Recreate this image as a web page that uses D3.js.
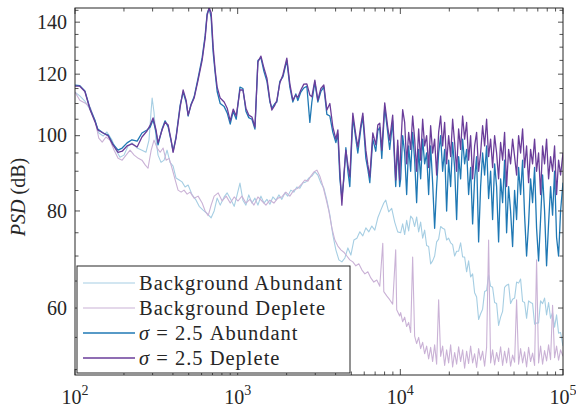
<!DOCTYPE html>
<html>
<head>
<meta charset="utf-8">
<script src="https://cdn.jsdelivr.net/npm/d3@7"></script>
<style>
  body { margin: 0; background: #fff; }
  text { font-family: "Liberation Serif", "Times New Roman", serif; fill: #262626; }
</style>
</head>
<body>
<div id="chart"></div>
<script>
// x tick labels (powers of ten) and y tick values
var xTickExps = [2, 3, 4, 5];
var yTickValues = [60, 80, 100, 120, 140];
var yMinorValues = [50, 55, 65, 70, 75, 85, 90, 95, 105, 110, 115, 125, 130, 135, 145];
var seriesNames = ["Background Abundant", "Background Deplete", "\u03c3 = 2.5 Abundant", "\u03c3 = 2.5 Deplete"];
var seriesColors = ["#a6cee3", "#cab2d6", "#1f78b4", "#6a3d9a"];

// shared frequency bins (Hz) for the high frequency part, 10 kHz - 100 kHz
var hfFreq = [10046, 10334, 10631, 10936, 11250, 11573, 11905, 12246, 12597, 12959, 13331, 13714, 14107, 14512, 14928,
  15357, 15797, 16251, 16717, 17197, 17690, 18198, 18721, 19258, 19810, 20379, 20964, 21565, 22184, 22821, 23476,
  24149, 24843, 25556, 26289, 27043, 27820, 28618, 29439, 30284, 31153, 32047, 32967, 33913, 34886, 35888, 36917,
  37977, 39067, 40188, 41341, 42528, 43748, 45004, 46296, 47624, 48991, 50397, 51844, 53332, 54862, 56437, 58056,
  59722, 61436, 63199, 65013, 66879, 68798, 70773, 72804, 74893, 77043, 79254, 81528, 83868, 86275, 88751, 91298,
  93918, 96614, 100000];

// Background Abundant [Hz, dB] below 10 kHz
var bgAbundantLF = [[100,113.8],[107,112.5],[115,110.8],[124,107.9],[133,104.5],[140,100.8],[149,99.9],[157,101.1],
  [169,98.7],[179,95.8],[189,93.8],[200,94.4],[212,97],[224,97.9],[241,96.4],[258,95.8],[273,95.2],[285,98.7],
  [294,107.9],[298,111.8],[306,107.2],[315,98.7],[324,94.4],[338,92.4],[353,93],[368,95.8],[384,92.4],[401,91.4],
  [418,88.2],[437,87.7],[455,87.2],[475,85.9],[496,86.4],[525,83.9],[555,82.6],[580,81.1],[613,80.2],[649,79.4],
  [687,78.4],[717,80],[748,83.1],[781,81.4],[826,83.4],[862,84.4],[913,82.6],[952,81.1],[992,83.9],[1033,86.9],
  [1077,82.6],[1124,81.4],[1170,83.9],[1224,81.9],[1277,83.1],[1332,81.4],[1390,83.6],[1450,81.9],[1513,82.8],
  [1578,81.6],[1646,83.4],[1717,82.6],[1792,83.9],[1869,82.8],[1950,84.4],[2034,83.6],[2122,85.1],[2214,84.6],
  [2310,85.9],[2411,85.6],[2515,86.9],[2624,87.2],[2738,88.2],[2858,88.7],[2982,89.8],[3111,89],[3247,86.9],
  [3387,85.6],[3535,82.6],[3688,79.1],[3847,74.5],[4015,71.3],[4190,69.2],[4371,68.8],[4561,69.6],[4760,71.7],
  [4966,70.2],[5182,73.4],[5407,73.8],[5638,75.2],[5881,74.3],[6138,76.1],[6405,75.2],[6680,76.5],[6968,75.6],
  [7270,78.4],[7585,80.2],[7912,81.9],[8138,82.6],[8481,79.8],[8850,80.6],[9234,77.4],[9636,75.2]];
var bgAbundantHF = [75.0, 77.0, 74.6, 77.8, 75.4, 78.8, 78.2, 76.4, 78.6, 75.2, 77.4, 73.8, 75.6, 72.2, 72.0, 68.4,
  69.0, 70.0, 73.0, 73.6, 76.4, 76.0, 75.8, 73.4, 73.8, 72.8, 72.4, 70.0, 71.0, 71.0, 72.8, 69.8, 69.8, 66.8, 69.0,
  65.8, 66.4, 62.8, 62.0, 58.0, 59.0, 59.8, 63.0, 63.2, 66.2, 64.0, 63.8, 61.0, 60.8, 57.0, 58.4, 59.4, 63.8, 64.2,
  64.4, 60.8, 61.6, 61.8, 64.8, 64.6, 65.4, 61.2, 61.0, 58.2, 61.3, 61.0, 60.8, 57.2, 57.4, 57.4, 61.3, 60.8, 61.8,
  58.8, 61.0, 58.2, 59.2, 56.7, 58.8, 55.7, 55.8, 53.6];

// Background Deplete
var bgDepleteLF = [[100,113.8],[107,111.1],[115,110.2],[124,108.8],[133,104.5],[140,99.3],[147,98.1],[155,99.6],
  [164,98.7],[174,95.8],[184,93.5],[195,93],[206,94.4],[218,95.8],[231,94.4],[245,93.5],[258,93],[270,91.7],
  [281,90.8],[294,95.8],[306,98.7],[320,96.4],[334,95.2],[348,96.4],[363,93],[379,93.5],[395,90.8],[413,87.7],
  [430,85.1],[449,84.6],[468,85.1],[489,84.1],[510,84.6],[540,83.1],[571,83.6],[605,81.9],[631,80],[659,78.9],
  [687,81.4],[717,83.6],[759,84.4],[803,82.4],[850,83.6],[900,81.9],[952,83.4],[1005,82.4],[1062,83.6],[1124,81.9],
  [1189,82.8],[1259,81.4],[1332,83.4],[1410,82.4],[1492,81.4],[1578,82.6],[1670,81.9],[1767,83.1],[1869,83.4],
  [1978,84.6],[2093,83.6],[2214,85.1],[2343,85.6],[2479,86.7],[2588,87.7],[2700,87.4],[2817,88.7],[2940,89.8],
  [3068,90.3],[3201,88.7],[3339,86.2],[3485,83.1],[3636,80],[3793,76.1],[3958,73.4],[4131,72.1],[4310,71.3],
  [4496,70.8],[4692,70],[4892,69.2],[5104,68.8],[5328,68],[5558,68.4],[5799,67.2],[6052,66.4],[6315,66.8],
  [6586,65.6],[6871,64.8],[7168,65.2],[7475,64],[7800,72.7],[7912,63],[8251,62.2],[8602,61.5],[8974,60.7],
  [9366,71.3],[9500,59.7],[9905,58.6]];
var bgDepleteHF = [59.2, 57.6, 58.4, 56.8, 57.5, 55.8, 69.8, 55.2, 54.0, 55.0, 53.2, 54.2, 52.4, 53.6, 51.6, 53.4,
  51.2, 53.8, 50.8, 61.5, 52.0, 53.6, 50.6, 53.0, 51.0, 53.8, 50.4, 52.6, 50.8, 53.5, 51.2, 53.0, 50.2, 52.8, 50.9,
  53.6, 51.0, 52.4, 50.3, 53.2, 51.4, 52.8, 50.5, 53.4, 73.4, 51.0, 53.0, 50.7, 52.6, 51.2, 53.5, 50.6, 52.8, 51.0,
  53.3, 50.5, 52.2, 51.1, 61.5, 50.8, 53.2, 51.0, 52.7, 50.4, 53.4, 51.2, 52.5, 50.6, 69.2, 51.0, 53.6, 50.8, 52.9,
  51.3, 53.8, 51.5, 60.5, 51.8, 53.6, 51.4, 53.0, 52.0];

// sigma = 2.5 Abundant
var sigAbundantLF = [[100,116.2],[107,116],[115,114.2],[124,108.2],[133,104.5],[138,102],[149,100.8],[160,100.2],
  [171,97.6],[184,95.8],[195,96.4],[209,97.9],[224,98.8],[241,98.4],[258,100.8],[277,101.7],[290,102.6],[302,104.8],
  [315,101.1],[324,97.3],[343,102],[358,104.5],[374,102.6],[390,98.4],[401,95.5],[418,99.6],[443,109.5],[462,113.8],
  [482,110.5],[496,106],[517,109.8],[540,112.2],[571,118.6],[605,126],[631,134.5],[649,143.5],[668,146],[687,142],
  [707,128],[727,120.5],[748,114],[781,110],[826,109],[862,107],[900,103.5],[939,107.5],[980,105],[1033,115.5],
  [1077,115],[1124,107.5],[1170,105.5],[1224,105],[1277,102],[1332,125],[1390,126],[1450,121],[1513,117.5],
  [1578,110.5],[1623,108.5],[1693,110],[1742,110.5],[1817,117.5],[1896,119],[2006,125],[2093,115.5],[2183,110.5],
  [2277,113.2],[2343,111],[2445,113.8],[2551,115.2],[2663,115.8],[2778,104],[2858,110.5],[2982,117.2],[3111,110.5],
  [3247,114],[3387,115.5],[3535,106.5],[3688,106],[3847,101],[4015,98],[4131,100.5],[4249,88],[4371,83],[4496,88],
  [4626,96.5],[4760,90],[4892,86],[5104,105.5],[5328,99],[5479,95],[5717,102],[5881,105.8],[6138,93.5],[6315,90.5],
  [6492,87],[6773,99],[7067,95.5],[7270,101.5],[7475,102.5],[7691,93.5],[8018,108.8],[8364,101],[8602,96],
  [8974,104.5],[9366,86],[9636,97],[9905,86]];
var sigAbundantHF = [88, 100, 95, 84, 97, 90, 101, 93, 82, 96, 88, 99, 92, 95, 84, 97, 87, 76, 86, 95, 100, 90, 96,
  80, 93, 86, 98, 91, 78, 94, 88, 99, 92, 96, 84, 91, 77, 88, 94, 73, 86, 95, 89, 97, 83, 90, 78, 92, 86, 73, 88, 82,
  93, 75, 86, 80, 72, 85, 78, 91, 84, 93, 79, 70, 77, 88, 82, 91, 76, 69, 78, 89, 80, 68, 77, 86, 79, 90, 74, 70, 80, 87];

// sigma = 2.5 Deplete
var sigDepleteLF = [[100,115.8],[107,115.8],[115,114],[124,107.9],[133,104.1],[138,101.7],[149,100.8],[160,99.9],
  [171,97.3],[184,95.2],[195,95.5],[209,97],[224,97.6],[241,96.7],[258,99.6],[277,101.4],[290,103.2],[302,105.4],
  [315,101.7],[324,97.9],[343,101.7],[358,104.1],[374,103.2],[390,98.7],[401,95.2],[418,99.3],[443,108.8],
  [462,114.5],[482,111.1],[496,106.3],[517,109.5],[540,111.8],[571,117.9],[605,125.1],[631,133.5],[649,142.9],
  [668,146],[687,144],[707,130],[727,121.5],[748,115.5],[781,111.8],[826,110.5],[862,108.5],[900,104.5],[939,108.2],
  [980,106],[1033,114.5],[1077,114.5],[1124,108.5],[1170,106.3],[1224,105.7],[1277,102.6],[1332,124.4],[1390,126.6],
  [1450,122.2],[1513,118.6],[1578,111.1],[1623,107.9],[1693,109.5],[1742,111.1],[1817,116.9],[1896,119.7],
  [2006,125.8],[2093,116.6],[2183,111.1],[2277,112.8],[2343,112],[2445,114.5],[2551,116.5],[2663,116.6],[2778,112.8],
  [2858,112.2],[2982,117.9],[3111,111.1],[3247,115],[3387,116.2],[3535,107.9],[3688,110],[3847,102.6],[4015,99],
  [4131,101.7],[4249,90.3],[4371,81.4],[4496,89],[4626,95.8],[4760,91.7],[4892,88.5],[5104,106.9],[5328,100.2],
  [5479,96.7],[5717,103.2],[5881,106.9],[6138,95.8],[6315,91.7],[6492,88.5],[6773,100.8],[7067,97.3],[7270,103.2],
  [7475,103.8],[7691,95.8],[8018,110.2],[8364,102.6],[8602,98.7],[8974,106.3],[9366,87.7],[9636,98.7],[9905,87.7]];
var sigDepleteHF = [96, 108, 104, 92, 101, 96, 106, 99, 90, 102, 93, 105, 97, 100, 91, 103, 95, 99, 89, 101, 106, 97,
  104, 92, 100, 94, 105, 98, 90, 102, 96, 106, 99, 104, 93, 100, 88, 97, 101, 90, 95, 103, 97, 105, 94, 99, 91, 100,
  95, 88, 98, 93, 101, 86, 96, 92, 99, 94, 89, 100, 95, 102, 91, 97, 87, 96, 92, 99, 90, 95, 84, 97, 92, 99, 88, 94,
  90, 97, 84, 93, 89, 95];

function join(lf, hf) {
  return lf.concat(hfFreq.map(function (f, i) { return [f, hf[i]]; }));
}
var series = [
  join(bgAbundantLF, bgAbundantHF),
  join(bgDepleteLF, bgDepleteHF),
  join(sigAbundantLF, sigAbundantHF),
  join(sigDepleteLF, sigDepleteHF)
];

var width = 576, height = 408;
var margin = { left: 75, right: 13, top: 8, bottom: 33 };
var x = d3.scaleLog().domain([100, 1e5]).range([margin.left, width - margin.right]);
var y = d3.scaleLog().domain([49.2, 146]).range([height - margin.bottom, margin.top]);
var x0 = margin.left, x1 = width - margin.right, y0 = height - margin.bottom, y1 = margin.top;

var svg = d3.select("#chart").append("svg")
  .attr("width", width)
  .attr("height", height)
  .attr("font-family", "Liberation Serif, Times New Roman, serif");

svg.append("clipPath").attr("id", "plot")
  .append("rect").attr("x", x0).attr("y", y1).attr("width", x1 - x0).attr("height", y0 - y1);

var line = d3.line()
  .x(function (d) { return x(d[0]); })
  .y(function (d) { return y(d[1]); });

var lines = svg.append("g").attr("clip-path", "url(#plot)");
series.forEach(function (s, i) {
  lines.append("path")
    .datum(s)
    .attr("fill", "none")
    .attr("stroke", seriesColors[i])
    .attr("stroke-width", i < 2 ? 1.1 : 1.3)
    .attr("stroke-linejoin", "round")
    .attr("d", line);
});

// ticks (inside, on all four sides)
var axisColor = "#262626";
var xMajor = xTickExps.map(function (e) { return Math.pow(10, e); });
var xMinor = [];
for (var e = 2; e < 5; e++) for (var k = 2; k <= 9; k++) xMinor.push(k * Math.pow(10, e));

var ticks = svg.append("g").attr("stroke", axisColor).attr("stroke-width", 0.8);
function xTick(v, len) {
  ticks.append("line").attr("x1", x(v)).attr("x2", x(v)).attr("y1", y0).attr("y2", y0 - len);
  ticks.append("line").attr("x1", x(v)).attr("x2", x(v)).attr("y1", y1).attr("y2", y1 + len);
}
function yTick(v, len) {
  ticks.append("line").attr("x1", x0).attr("x2", x0 + len).attr("y1", y(v)).attr("y2", y(v));
  ticks.append("line").attr("x1", x1).attr("x2", x1 - len).attr("y1", y(v)).attr("y2", y(v));
}
xMajor.forEach(function (v) { xTick(v, 6); });
xMinor.forEach(function (v) { xTick(v, 3.5); });
yTickValues.forEach(function (v) { yTick(v, 5); });
yMinorValues.forEach(function (v) { yTick(v, 3.5); });

svg.append("rect")
  .attr("x", x0).attr("y", y1).attr("width", x1 - x0).attr("height", y0 - y1)
  .attr("fill", "none").attr("stroke", axisColor).attr("stroke-width", 1);

// tick labels
var xl = svg.append("g").attr("font-size", 20).attr("text-anchor", "middle");
xTickExps.forEach(function (e) {
  var t = xl.append("text").attr("x", x(Math.pow(10, e))).attr("y", 404);
  t.append("tspan").text("10");
  t.append("tspan").attr("dy", -9).attr("font-size", 14).text(e);
});
svg.append("g").attr("font-size", 20).attr("text-anchor", "end")
  .selectAll("text").data(yTickValues).join("text")
  .attr("x", 67).attr("y", function (d) { return y(d); }).attr("dy", "0.34em")
  .text(function (d) { return d; });

// y label
var yl = svg.append("text")
  .attr("transform", "translate(25," + 197 + ") rotate(-90)")
  .attr("text-anchor", "middle").attr("font-size", 20);
yl.append("tspan").attr("font-style", "italic").text("PSD");
yl.append("tspan").text(" (dB)");

// legend
var lg = svg.append("g");
lg.append("rect").attr("x", 77).attr("y", 266).attr("width", 273).attr("height", 107)
  .attr("fill", "#fff").attr("stroke", axisColor).attr("stroke-width", 1);
seriesNames.forEach(function (name, i) {
  var ly = 283 + i * 25;
  lg.append("line").attr("x1", 83).attr("x2", 135).attr("y1", ly).attr("y2", ly)
    .attr("stroke", seriesColors[i]).attr("stroke-width", i < 2 ? 1.1 : 1.3);
  var t = lg.append("text").attr("x", 139).attr("y", ly).attr("dy", "0.33em")
    .attr("font-size", 20.5).attr("letter-spacing", 1);
  if (i < 2) {
    t.text(name);
  } else {
    t.append("tspan").attr("font-style", "italic").text("\u03c3");
    t.append("tspan").text(name.slice(1));
  }
});
</script>
</body>
</html>
